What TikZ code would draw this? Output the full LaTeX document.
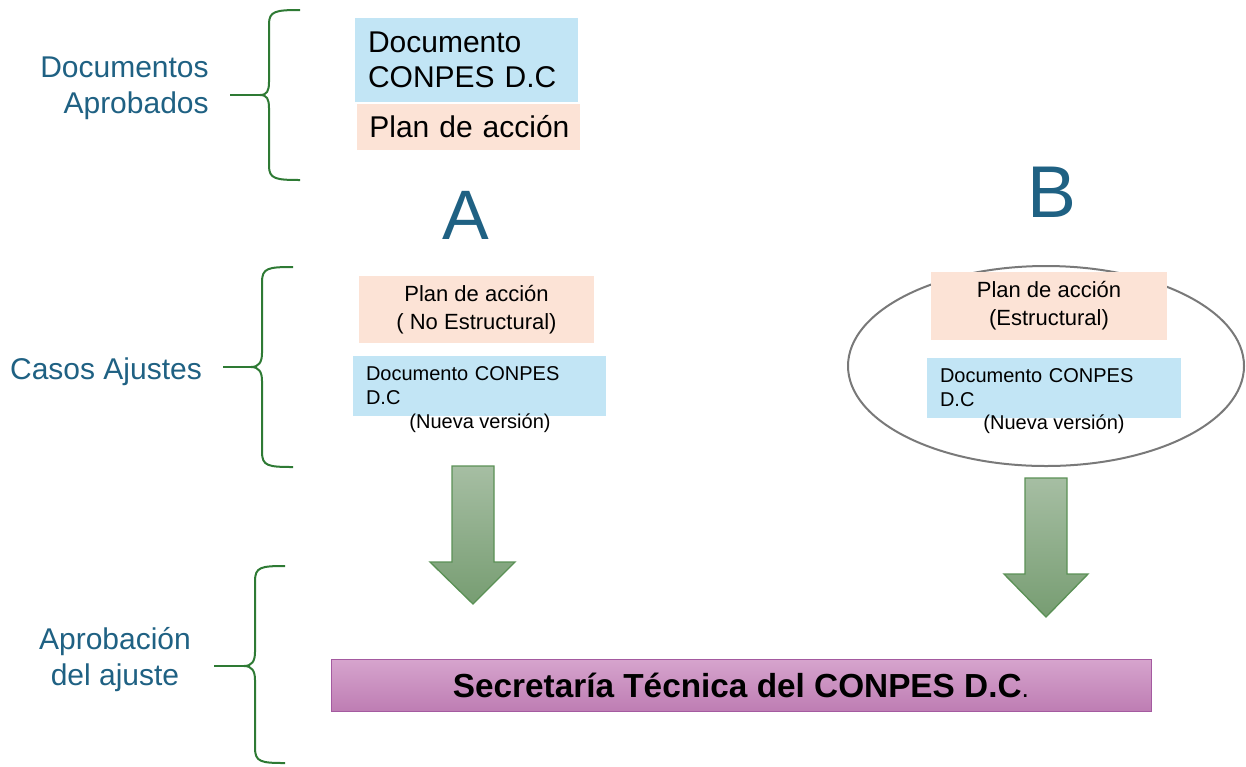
\documentclass[tikz,border=0pt]{standalone}
\usepackage{fontspec}
\setmainfont{Liberation Sans}
\usetikzlibrary{shapes.geometric}
\definecolor{labelblue}{HTML}{1F6183}
\definecolor{bracegreen}{HTML}{2E7A34}
\definecolor{boxblue}{HTML}{C2E5F5}
\definecolor{boxpeach}{HTML}{FCE3D6}
\definecolor{arrowtop}{HTML}{A6BEA3}
\definecolor{arrowbot}{HTML}{779D72}
\definecolor{arrowline}{HTML}{5B9156}
\definecolor{bartop}{HTML}{D6A4CD}
\definecolor{barbot}{HTML}{BE7DB3}
\definecolor{barline}{HTML}{A45AA0}
\tikzset{
  sidelabel/.style={text=labelblue, font=\fontsize{18}{21.6}\selectfont, inner sep=0pt},
  bracepath/.style={draw=bracegreen, line width=1.2pt},
  bluebox/.style={fill=boxblue, inner sep=0pt, align=left},
  peachbox/.style={fill=boxpeach, inner sep=0pt},
  bigletter/.style={text=labelblue, inner sep=0pt},
  smalltext/.style={font=\fontsize{12}{14.4}\selectfont, inner sep=0pt},
  blockarrow/.style={draw=arrowline, line width=0.8pt, top color=arrowtop, bottom color=arrowbot},
  barbox/.style={draw=barline, line width=0.6pt, top color=bartop, bottom color=barbot, inner sep=0pt}
}
\begin{document}
\begin{tikzpicture}[x=0.6pt, y=-0.6pt]
\useasboundingbox (0,0) rectangle (1246,766);

% side labels
\node[sidelabel, align=right, anchor=east] (lab1) at (209,88) {Documentos\\Aprobados};
\node[sidelabel] (lab2) at (106,372) {Casos Ajustes};
\node[sidelabel, align=center] (lab3) at (115,660) {Aprobación\\del ajuste};

% braces
\draw[bracepath] (300,10) .. controls (276,10) and (269,11) .. (269,24) -- (269,82)
  .. controls (269,91) and (267,95) .. (260,95)
  .. controls (267,95) and (269,99) .. (269,108) -- (269,166)
  .. controls (269,179) and (276,180) .. (300,180);
\draw[bracepath] (230,95) -- (260,95);

\draw[bracepath] (293,267) .. controls (268,267) and (262,268) .. (262,282) -- (262,353)
  .. controls (262,362) and (259,367) .. (251,367)
  .. controls (259,367) and (262,372) .. (262,381) -- (262,452)
  .. controls (262,466) and (268,467) .. (293,467);
\draw[bracepath] (223,367) -- (251,367);

\draw[bracepath] (285,566) .. controls (261,566) and (255,567) .. (255,581) -- (255,652)
  .. controls (255,661) and (252,666) .. (244,666)
  .. controls (252,666) and (255,671) .. (255,680) -- (255,748)
  .. controls (255,762) and (261,763) .. (285,763);
\draw[bracepath] (214,666) -- (244,666);

% top boxes
\node[bluebox, minimum width=133.8pt, minimum height=50.4pt, text width=118.2pt,
  font=\fontsize{18}{21}\selectfont] (docA) at (466.5,60) {Documento\\CONPES D.C};
\node[peachbox, minimum width=133.8pt, minimum height=27.6pt, text width=119pt, align=left,
  font=\fontsize{18}{21}\selectfont] (planTop) at (468.5,127) {\mbox{Plan de acción}};

% letters
\node[bigletter, font=\fontsize{42}{42}\selectfont] (letA) at (466,215) {A};
\node[bigletter, font=\fontsize{44}{44}\selectfont] (letB) at (1052,192) {B};

% column A
\node[peachbox, minimum width=141pt, minimum height=40.2pt, align=center,
  font=\fontsize{13.2}{16.8}\selectfont] (planA) at (476.5,309.5) {Plan de acción\\( No Estructural)};
\node[bluebox, minimum width=151.8pt, minimum height=36pt, text width=136.2pt,
  font=\fontsize{12}{14.4}\selectfont] (docNA) at (479.5,386) {Documento CONPES\\D.C};
\node[smalltext] (nvA) at (480,423) {(Nueva versión)};

% column B
\node[ellipse, draw=gray!95!black, line width=1.2pt, minimum width=237.6pt, minimum height=120pt, inner sep=0pt] (ellB) at (1046,366) {};
\node[peachbox, minimum width=141.6pt, minimum height=40.8pt, align=center,
  font=\fontsize{13.2}{16.8}\selectfont] (planB) at (1049,306) {Plan de acción\\(Estructural)};
\node[bluebox, minimum width=152.4pt, minimum height=36pt, text width=136.8pt,
  font=\fontsize{12}{14.4}\selectfont] (docNB) at (1054,388) {Documento CONPES\\D.C};
\node[smalltext] (nvB) at (1054,424) {(Nueva versión)};

% block arrows
\path[blockarrow] (452,466) -- (494,466) -- (494,562) -- (515,562) -- (473,604) -- (430,562) -- (452,562) -- cycle;
\path[blockarrow] (1025,478) -- (1067,478) -- (1067,574) -- (1088,574) -- (1046,617) -- (1004,574) -- (1025,574) -- cycle;

% bottom bar
\node[barbox, minimum width=492pt, minimum height=31.2pt] (sec) at (741,685)
  {\fontsize{20}{24}\selectfont\bfseries Secretaría Técnica del CONPES D.C\fontsize{16}{20}\selectfont\mdseries.};

\end{tikzpicture}
\end{document}
